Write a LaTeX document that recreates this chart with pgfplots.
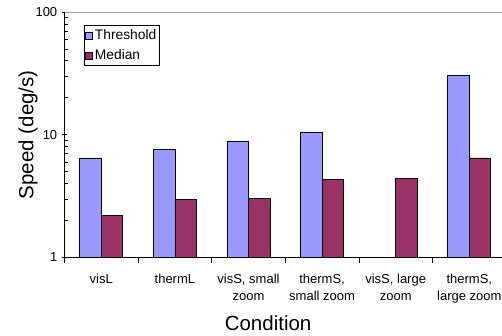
\documentclass[border=0pt]{standalone}
\usepackage{fontspec}
\setmainfont{Liberation Sans}
\usepackage{pgfplots}
\pgfplotsset{compat=1.18}
\definecolor{thresh}{HTML}{9999FF}
\definecolor{median}{HTML}{993366}
\definecolor{frameline}{HTML}{A0A0A0}

\begin{document}
\begin{tikzpicture}
\path[use as bounding box] (-64.5bp,-78.5bp) rectangle (437.5bp,257.5bp);
\begin{axis}[
  at={(0,0)}, anchor=south west,
  scale only axis, width=441.6bp, height=245.5bp,
  ymode=log, ymin=1, ymax=100,
  xmin=-0.5, xmax=5.5,
  ybar=0pt, bar width=21.5bp,
  clip=false,
  axis x line*=bottom, axis y line*=left,
  axis line style={-, black, line width=0.8bp},
  xtick={-0.5,0.5,...,5.5},
  x tick label as interval,
  xticklabels={visL, thermL, {visS, small\\zoom}, {thermS,\\small zoom}, {visS, large\\zoom}, {thermS,\\large zoom}},
  xtick align=outside,
  ytick align=center,
  major tick length=5.5bp,
  minor tick length=3bp,
  ytick={1,10,100},
  yticklabels={1,10,100},
  minor ytick={2,3,4,5,6,7,8,9,20,30,40,50,60,70,80,90},
  minor y tick style={xshift=1.5bp},
  tick style={black, line width=0.7bp},
  /pgf/number format/assume math mode=true,
  xticklabel style={align=center, font=\fontsize{13bp}{17bp}\selectfont, yshift=-8bp},
  yticklabel style={font=\fontsize{13bp}{15bp}\selectfont, xshift=-1bp},
  every axis x label/.style={at={([yshift=-65.5bp]axis description cs:0.461,0)}, anchor=center, font=\fontsize{20.5bp}{24bp}\selectfont},
  every axis y label/.style={at={([xshift=-36.5bp]axis description cs:0,0.5)}, anchor=center, rotate=90, font=\fontsize{20.5bp}{24bp}\selectfont},
  xlabel={Condition},
  ylabel={Speed (deg/s)},
  legend style={at={(axis description cs:0.0442,0.945)}, anchor=north west,
    draw=black, line width=0.6bp, inner xsep=1bp, inner ysep=3bp,
    font=\fontsize{13.8bp}{16bp}\selectfont, row sep=6.5bp,
    nodes={inner xsep=2bp, inner ysep=1bp}},
  legend cell align=left,
  legend image code/.code={\draw[#1, line width=0.6bp] (0bp,-3.5bp) rectangle (7bp,3.5bp);},
]
\addplot[fill=thresh, draw=black, line width=0.8bp]
  coordinates {(0,6.47) (1,7.55) (2,8.89) (3,10.4) (5,30.5)};
\addplot[fill=median, draw=black, line width=0.8bp]
  coordinates {(0,2.19) (1,2.96) (2,3.01) (3,4.30) (4,4.38) (5,6.47)};
\legend{Threshold, Median}
\draw[frameline, line width=0.8bp] (rel axis cs:0,1) -- (rel axis cs:1,1);
\end{axis}
\end{tikzpicture}
\end{document}
